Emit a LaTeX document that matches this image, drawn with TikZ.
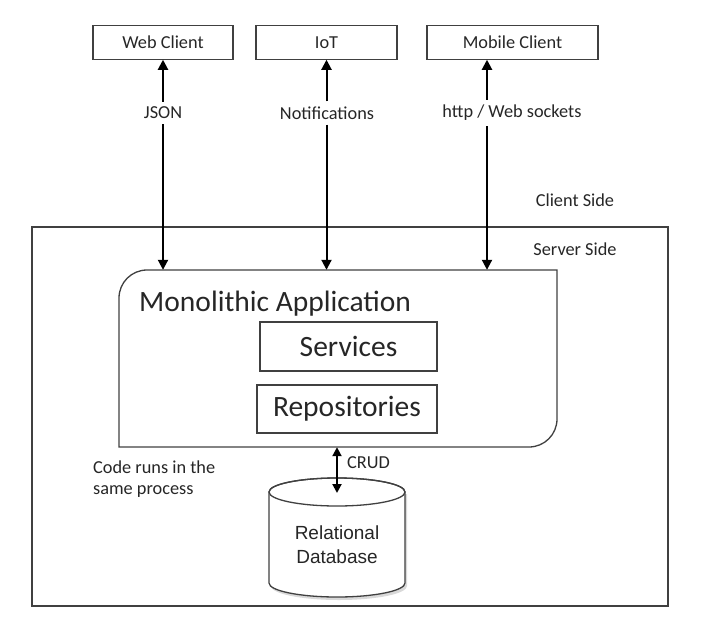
\documentclass[tikz,border=0pt]{standalone}
\usepackage{fontspec}
\setmainfont{Carlito}
\newfontfamily\arialfont{Liberation Sans}
\usetikzlibrary{arrows.meta}
\definecolor{boxgray}{HTML}{404040}
\definecolor{txt}{HTML}{262626}
\begin{document}
\begin{tikzpicture}[x=1pt,y=-1pt,
  box/.style={draw=boxgray, line width=1.2pt, inner sep=0pt, text=txt},
  small/.style={font=\fontsize{18.3}{21}\selectfont},
  big/.style={font=\fontsize{29.5}{34}\selectfont},
  lbl/.style={small, text=txt, inner sep=3pt},
  arr/.style={line width=2pt, -{Triangle[length=10pt,width=10pt]}},
  dbl/.style={line width=2pt, {Triangle[length=9pt,width=9pt]}-{Triangle[length=9pt,width=9pt]}},
  outline/.style={draw=boxgray, line width=1.3pt},
]
\useasboundingbox (0,0) rectangle (706,626);

% client boxes
\node[box, small, minimum width=140pt, minimum height=33.5pt] (web) at (163,42.4) {Web Client};
\node[box, small, minimum width=141pt, minimum height=33.5pt] (iot) at (326.5,42.4) {IoT};
\node[box, small, minimum width=171pt, minimum height=33.5pt] (mobile) at (512.5,42.4) {Mobile Client};

% labels
\node[lbl, inner ysep=5pt] (json) at (163,113) {JSON};
\node[lbl, inner ysep=5pt] (notif) at (327,113) {Notifications};
\node[lbl, inner ysep=5pt] (http) at (512,113) {http / Web sockets};
\node[lbl] (client) at (575,200) {Client Side};
\node[lbl] (server) at (575,249) {Server Side};

% server boundary
\draw[outline] (32,227) rectangle (668,606);

% application
\node[minimum width=438pt, minimum height=177pt, inner sep=0pt] (app) at (338,358.5) {};
\draw[outline] (119,447) -- (119,298) arc[start angle=180,end angle=270,radius=28]
  -- (557,270) -- (557,419) arc[start angle=0,end angle=90,radius=28] -- cycle;
\node[big, text=txt, anchor=base west, inner sep=0pt] (mono) at (139,311) {Monolithic Application};
\node[box, big, minimum width=177pt, minimum height=49pt] (services) at (348.5,346.5) {Services};
\node[box, big, minimum width=180pt, minimum height=48pt] (repos) at (347,409) {Repositories};

% connectors
\coordinate (mx) at (487,0);
\draw[arr] (json.north) -- (web.south);
\draw[arr] (json.south) -- (json.south |- app.north);
\draw[arr] (notif.north -| iot.south) -- (iot.south);
\draw[arr] (notif.south -| iot.south) -- (iot.south |- app.north);
\draw[arr] (mx |- http.north) -- (mx |- mobile.south);
\draw[arr] (mx |- http.south) -- (mx |- app.north);

\node[lbl, align=left, anchor=west, inner sep=0pt] (code) at (93,479.5) {Code runs in the\\same process};

% database
\fill[black!25, opacity=0.6] (271,494) -- (271,586) arc[start angle=180,end angle=0,x radius=68,y radius=14] -- (407,494) -- cycle;
\draw[outline, fill=white] (269,492) -- (269,583) arc[start angle=180,end angle=0,x radius=68,y radius=14]
  -- (405,492) arc[start angle=0,end angle=-180,x radius=68,y radius=14] -- cycle;
\draw[outline] (337,492) ellipse[x radius=68,y radius=14];
\node[font=\arialfont\fontsize{19}{24}\selectfont, text=txt, align=center] (db) at (337,545) {Relational\\Database};
\coordinate (dbtop) at (337,493);
\draw[dbl] (app.south -| dbtop) -- (dbtop);
\node[lbl, anchor=west, inner sep=0pt] (crud) at (347,463) {CRUD};
\end{tikzpicture}
\end{document}
